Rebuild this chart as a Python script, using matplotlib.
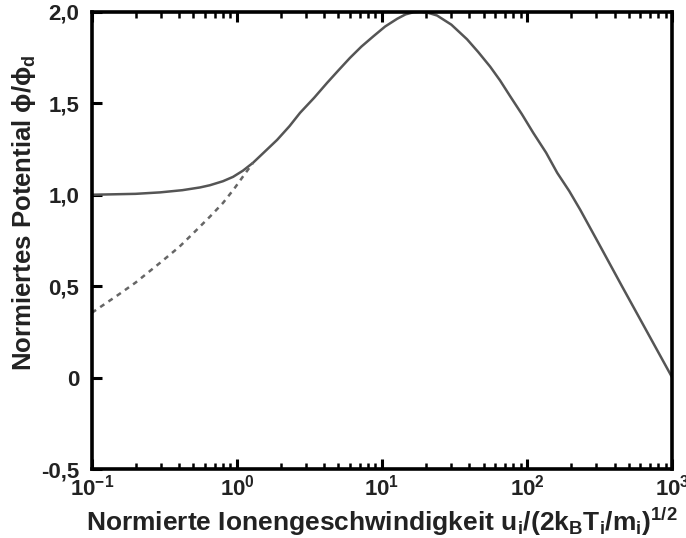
import matplotlib
matplotlib.use("Agg")
import matplotlib.pyplot as plt
from matplotlib.ticker import FixedLocator, FixedFormatter, LogLocator, NullFormatter

plt.rcParams["font.family"] = ["Liberation Sans", "DejaVu Sans"]
plt.rcParams["font.weight"] = "bold"
plt.rcParams["mathtext.fontset"] = "custom"
plt.rcParams["mathtext.rm"] = "Liberation Sans"
plt.rcParams["mathtext.bf"] = "Liberation Sans:bold"
plt.rcParams["mathtext.it"] = "Liberation Sans:italic"

# solid curve: normalised potential vs normalised ion velocity
u_solid = [0.1, 0.2, 0.295, 0.42, 0.556, 0.65, 0.8, 0.94, 1.1, 1.29, 1.55, 1.89, 2.3, 2.72,
           3.4, 4.18, 5.0, 6.0, 7.2, 8.67, 10.5, 12.7, 14.5, 16.5, 18.5, 20.5, 23.9, 30.0,
           38.5, 46.0, 55.6, 65.0, 76.4, 92.0, 110, 135, 161, 195, 232, 309, 450, 650, 1000]
phi_solid = [1.0, 1.005, 1.013, 1.025, 1.04, 1.052, 1.074, 1.098, 1.132, 1.175, 1.235, 1.30,
             1.375, 1.448, 1.53, 1.612, 1.68, 1.748, 1.81, 1.865, 1.92, 1.962, 1.986, 1.998,
             2.0, 1.996, 1.98, 1.93, 1.85, 1.78, 1.70, 1.625, 1.538, 1.44, 1.339, 1.23, 1.12,
             1.02, 0.918, 0.738, 0.50, 0.27, 0.0]

# dashed curve (low-velocity branch)
u_dash = [0.1, 0.15, 0.2, 0.295, 0.4, 0.5, 0.65, 0.8, 0.95, 1.1, 1.29]
phi_dash = [0.355, 0.45, 0.52, 0.628, 0.715, 0.79, 0.88, 0.955, 1.03, 1.10, 1.175]

y_ticks = [-0.5, 0, 0.5, 1.0, 1.5, 2.0]
y_ticklabels = ["-0,5", "0", "0,5", "1,0", "1,5", "2,0"]
x_ticks = [0.1, 1, 10, 100, 1000]
x_ticklabels = [r"$\mathbf{10^{-1}}$", r"$\mathbf{10^{0}}$", r"$\mathbf{10^{1}}$",
                r"$\mathbf{10^{2}}$", r"$\mathbf{10^{3}}$"]

fig = plt.figure(figsize=(6.86, 5.38), dpi=100)
ax = fig.add_axes([0.134, 0.128, 0.846, 0.850])

ax.plot(u_solid, phi_solid, color="#555555", lw=1.8, solid_capstyle="round")
ax.plot(u_dash, phi_dash, color="#666666", lw=1.8, ls=(0, (2.0, 2.0)))

ax.set_xscale("log")
ax.set_xlim(0.1, 1000)
ax.set_ylim(-0.5, 2.0)

ax.xaxis.set_major_locator(FixedLocator(x_ticks))
ax.xaxis.set_major_formatter(FixedFormatter(x_ticklabels))
ax.xaxis.set_minor_locator(LogLocator(base=10, subs=range(2, 10)))
ax.xaxis.set_minor_formatter(NullFormatter())
ax.yaxis.set_major_locator(FixedLocator(y_ticks))
ax.yaxis.set_major_formatter(FixedFormatter(y_ticklabels))

ax.tick_params(axis="both", which="major", direction="in", length=7, width=2.2,
               labelsize=16, labelcolor="#222222")
ax.tick_params(axis="y", which="major", pad=9)
ax.tick_params(axis="x", which="major", top=True, pad=4)
ax.tick_params(axis="x", which="minor", direction="in", length=4, width=1.8, top=True)
for spine in ax.spines.values():
    spine.set_linewidth(2.6)

ax.set_xlabel(r"Normierte Ionengeschwindigkeit u$_\mathbf{i}$/(2k$_\mathbf{B}$T$_\mathbf{i}$/m$_\mathbf{i}$)$^\mathbf{1/2}$",
              fontsize=19, fontweight="bold", color="#222222", labelpad=4)
ax.set_ylabel(r"Normiertes Potential $\mathrm{\phi/\phi_d}$",
              fontsize=18.5, fontweight="bold", color="#222222")
ax.yaxis.set_label_coords(-0.093, 0.56)

fig.savefig("out.png", dpi=100)
